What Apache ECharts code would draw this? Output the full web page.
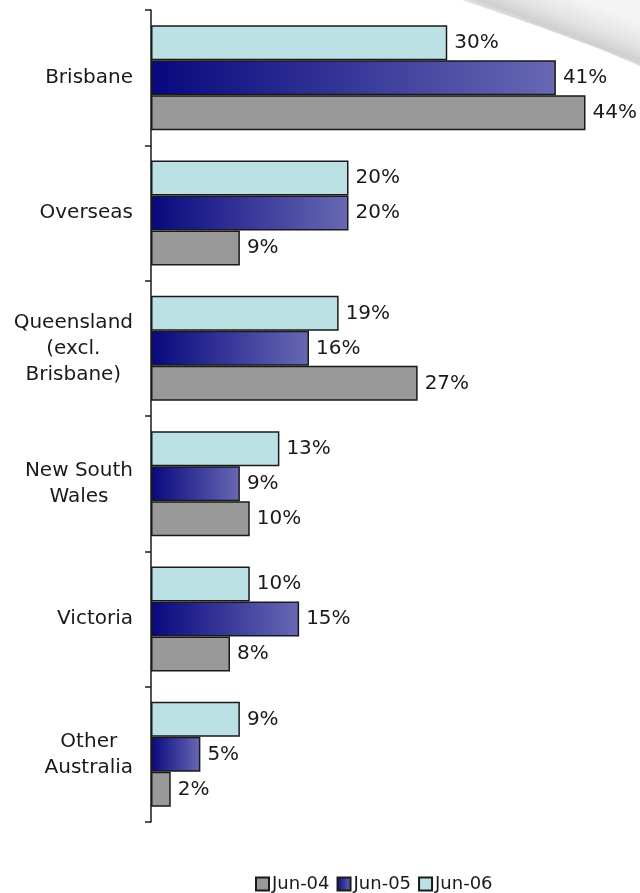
<!DOCTYPE html>
<html>
<head>
<meta charset="utf-8">
<script src="https://cdn.jsdelivr.net/npm/echarts@6/dist/echarts.min.js"></script>
<style>
  html, body { margin: 0; padding: 0; background: #fff; }
  #main { width: 640px; height: 893px; }
</style>
</head>
<body>
<div id="main"></div>
<script>
const categories = ['Brisbane', 'Overseas', 'Queensland\n(excl.\nBrisbane)', 'New South\nWales', 'Victoria', 'Other\nAustralia'];
const jun04 = [44, 9, 27, 10, 8, 2];
const jun05 = [41, 20, 16, 9, 15, 5];
const jun06 = [30, 20, 19, 13, 10, 9];
const legendNames = ['Jun-04', 'Jun-05', 'Jun-06'];

const font = '"DejaVu Sans", Verdana, sans-serif';
const blueGrad = new echarts.graphic.LinearGradient(0, 0, 1, 0, [
  { offset: 0, color: '#08087e' },
  { offset: 1, color: '#6868b4' }
]);

const myChart = echarts.init(document.getElementById('main'));

function barSeries(name, data, color) {
  return {
    name: name,
    type: 'bar',
    data: data,
    barWidth: 35,
    barGap: '0%',
    itemStyle: { color: color, borderColor: '#1a1a1a', borderWidth: 1.5 },
    label: {
      show: true,
      position: 'right',
      distance: 7,
      formatter: '{c}%',
      color: '#1a1a1a',
      fontFamily: font,
      fontSize: 20
    },
    emphasis: { disabled: true }
  };
}

const option = {
  animation: false,
  backgroundColor: '#fff',
  grid: { left: 151, top: 10, bottom: 71, width: 474 },
  legend: {
    top: 875,
    left: 255,
    padding: 0,
    itemWidth: 13,
    itemHeight: 13,
    itemGap: 7,
    textStyle: { fontFamily: font, fontSize: 18, color: '#1a1a1a', padding: [0, 0, 0, -2] },
    data: legendNames.map(n => ({ name: n, icon: 'rect' }))
  },
  xAxis: {
    type: 'value',
    min: 0,
    max: 48,
    show: false
  },
  yAxis: {
    type: 'category',
    data: categories,
    inverse: true,
    axisLine: { show: true, lineStyle: { color: '#1a1a1a', width: 1.5 } },
    axisTick: { show: true, length: 6, lineStyle: { color: '#1a1a1a', width: 1.5 } },
    axisLabel: {
      margin: 18,
      align: 'right',
      formatter: v => v.split('\n').map(s => '{c|' + s + '}').join('\n'),
      rich: {
        c: { align: 'center', fontFamily: font, fontSize: 20, color: '#1a1a1a', lineHeight: 26 }
      }
    }
  },
  // page-curl shading in the top right corner
  graphic: [{
    type: 'polygon',
    silent: true,
    z: -1,
    shape: { points: [[462, 0], [640, 0], [640, 66], [600, 49], [540, 27]] },
    style: {
      stroke: 'transparent',
      lineWidth: 0,
      fill: new echarts.graphic.LinearGradient(551, 33, 566, -6, [
        { offset: 0, color: '#e2e2e2' },
        { offset: 0.12, color: '#cfcfcf' },
        { offset: 0.45, color: '#e3e3e3' },
        { offset: 1, color: '#f4f4f4' }
      ], true)
    }
  }],
  series: [
    barSeries('Jun-06', jun06, '#bce1e4'),
    barSeries('Jun-05', jun05, blueGrad),
    barSeries('Jun-04', jun04, '#999999')
  ]
};
myChart.setOption(option);
</script>
</body>
</html>
